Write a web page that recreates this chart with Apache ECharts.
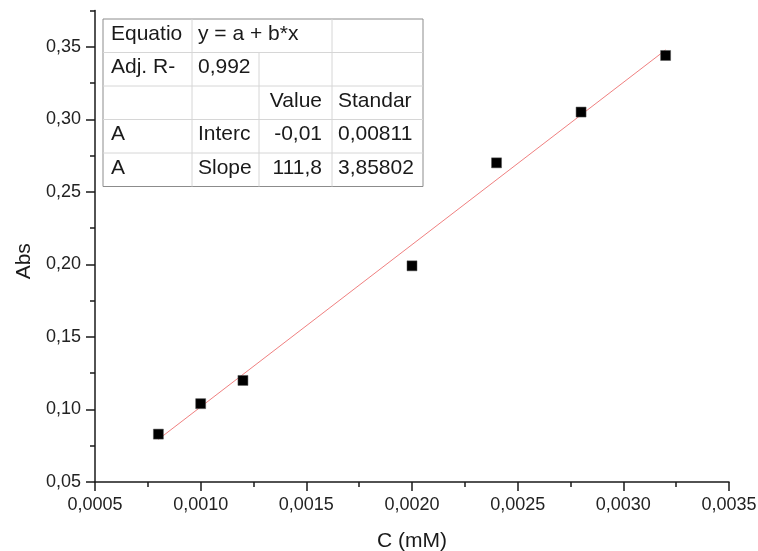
<!DOCTYPE html>
<html>
<head>
<meta charset="utf-8">
<script src="https://cdn.jsdelivr.net/npm/echarts@6/dist/echarts.min.js"></script>
<style>
  html, body { margin: 0; padding: 0; background: #fff; }
  #main { width: 758px; height: 551px; }
</style>
</head>
<body>
<div id="main"></div>
<script>
const concentration = [0.0008, 0.0010, 0.0012, 0.0020, 0.0024, 0.0028, 0.0032]
const absorbance = [0.083, 0.104, 0.120, 0.199, 0.270, 0.305, 0.344]

// linear fit y = a + b*x, read at its two ends
const fitX = [0.0008, 0.0032]
const fitY = [0.0794, 0.3478]

const yMajorTicks = [0.05, 0.10, 0.15, 0.20, 0.25, 0.30, 0.35]
const yMinorTicks = [0.075, 0.125, 0.175, 0.225, 0.275, 0.325, 0.375]

// fit result table
const tableRows = [
  ['Equatio', 'y = a + b*x', '', ''],
  ['Adj. R-', '0,992', '', ''],
  ['', '', 'Value', 'Standar'],
  ['A', 'Interc', '-0,01', '0,00811'],
  ['A', 'Slope', '111,8', '3,85802'],
]

const FONT = '"Liberation Sans", Arial, sans-serif'
const myChart = echarts.init(document.getElementById('main'))

// table drawing
const colX = [103, 192, 259, 332, 423]
const rowY = [19, 52.5, 86, 119.5, 153, 186.5]
const tableGraphic = []
tableGraphic.push({
  type: 'rect',
  shape: { x: colX[0], y: rowY[0], width: colX[4] - colX[0], height: rowY[5] - rowY[0] },
  style: { fill: '#fff', stroke: '#8c8c8c', lineWidth: 1 },
  z: 10,
})
for (let r = 1; r < 5; r++) {
  tableGraphic.push({
    type: 'line',
    shape: { x1: colX[0], y1: rowY[r], x2: colX[4], y2: rowY[r] },
    style: { stroke: '#d6d6d6', lineWidth: 1 },
    z: 11,
  })
}
;[1, 2, 3].forEach(function (c) {
  tableGraphic.push({
    type: 'line',
    shape: { x1: colX[c], y1: c === 2 ? rowY[1] : rowY[0], x2: colX[c], y2: rowY[5] },
    style: { stroke: '#d6d6d6', lineWidth: 1 },
    z: 11,
  })
})
tableRows.forEach(function (row, r) {
  row.forEach(function (txt, c) {
    if (!txt) return
    const rightAlign = c === 2
    tableGraphic.push({
      type: 'text',
      x: rightAlign ? colX[3] - 10 : colX[c] + (c === 0 ? 8 : 6),
      y: rowY[r] + 15,
      style: {
        text: txt,
        font: '21px ' + FONT,
        fill: '#1a1a1a',
        align: rightAlign ? 'right' : 'left',
        verticalAlign: 'middle',
      },
      z: 12,
    })
  })
})

var option = {
  animation: false,
  backgroundColor: '#fff',
  grid: { left: 95, right: 29, top: 10.5, bottom: 69, outerBoundsMode: 'none', containLabel: false },
  xAxis: {
    type: 'value',
    min: 0.0005,
    max: 0.0035,
    interval: 0.0005,
    name: 'C (mM)',
    nameLocation: 'middle',
    nameGap: 49,
    nameTextStyle: { fontFamily: FONT, fontSize: 21, color: '#1a1a1a' },
    axisLine: { onZero: false, lineStyle: { color: '#1a1a1a', width: 1.5 } },
    axisTick: { length: 9, lineStyle: { color: '#1a1a1a', width: 1.5 } },
    minorTick: { show: true, splitNumber: 2, length: 5, lineStyle: { color: '#1a1a1a', width: 1.5 } },
    axisLabel: {
      margin: 14,
      fontFamily: FONT,
      fontSize: 18,
      color: '#222',
      formatter: (v) => v.toFixed(4).replace('.', ','),
    },
    splitLine: { show: false },
  },
  yAxis: [
    {
      type: 'value',
      min: 0.05,
      max: 0.375,
      interval: 0.05,
      name: 'Abs',
      nameLocation: 'middle',
      nameGap: 58,
      nameTextStyle: { fontFamily: FONT, fontSize: 21, color: '#1a1a1a', padding: [0, 30, 0, 0] },
      axisLine: { show: true, onZero: false, lineStyle: { color: '#1a1a1a', width: 1.5 } },
      axisTick: { show: true, length: 9, customValues: yMajorTicks, lineStyle: { color: '#1a1a1a', width: 1.5 } },
      axisLabel: {
        margin: 14,
        fontFamily: FONT,
        fontSize: 18,
        color: '#222',
        customValues: yMajorTicks,
        formatter: (v) => v.toFixed(2).replace('.', ','),
      },
      splitLine: { show: false },
    },
    {
      // minor ticks only
      type: 'value',
      position: 'left',
      min: 0.05,
      max: 0.375,
      interval: 0.05,
      axisLine: { show: false },
      axisTick: { show: true, length: 5, customValues: yMinorTicks, lineStyle: { color: '#1a1a1a', width: 1.5 } },
      axisLabel: { show: false },
      splitLine: { show: false },
    },
  ],
  graphic: tableGraphic,
  series: [
    {
      name: 'fit',
      type: 'line',
      data: fitX.map((x, i) => [x, fitY[i]]),
      showSymbol: false,
      silent: true,
      lineStyle: { color: '#f08080', width: 1 },
      z: 2,
    },
    {
      name: 'Abs',
      type: 'scatter',
      data: concentration.map((x, i) => [x, absorbance[i]]),
      symbol: 'rect',
      symbolSize: 10,
      itemStyle: { color: '#000', borderColor: '#555', borderWidth: 0.5, opacity: 1 },
      z: 3,
    },
  ],
}

myChart.setOption(option)
</script>
</body>
</html>
